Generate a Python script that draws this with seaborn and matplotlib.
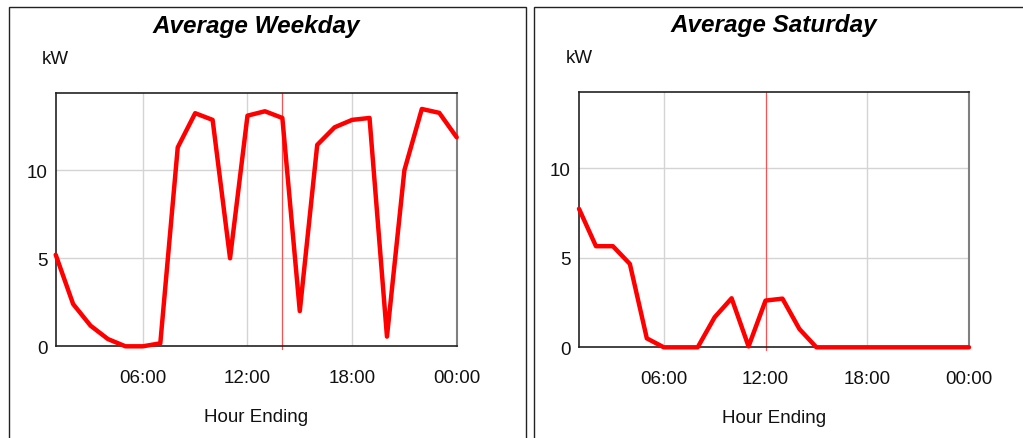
import numpy as np
import pandas as pd
import seaborn as sns
import matplotlib
matplotlib.use("Agg")
import matplotlib.pyplot as plt
from matplotlib.patches import Rectangle
from matplotlib.ticker import FixedLocator

# Hourly load profiles (hour ending 1..24)
hours = list(range(1, 25))
weekday_kw = [5.2, 2.4, 1.17, 0.41, 0.0, 0.0, 0.17, 11.3, 13.24, 12.86, 5.0, 13.1,
              13.35, 12.97, 2.0, 11.44, 12.44, 12.86, 12.97, 0.55, 10.0, 13.48, 13.26, 11.87]
saturday_kw = [7.74, 5.65, 5.65, 4.66, 0.5, 0.0, 0.0, 0.0, 1.68, 2.74, 0.05, 2.61,
               2.72, 1.02, 0.0, 0.0, 0.0, 0.0, 0.0, 0.0, 0.0, 0.0, 0.0, 0.0]

titles = ["Average Weekday", "Average Saturday"]
x_ticks = [6, 12, 18, 24]
x_tick_labels = ["06:00", "12:00", "18:00", "00:00"]
y_major = [0, 5, 10]
y_minor = [2.5, 7.5, 12.5]
marker_hour = [14, 12]

sns.set_theme(style="white")
plt.rcParams["font.family"] = ["Liberation Sans", "DejaVu Sans"]

W, H = 1023, 439
fig = plt.figure(figsize=(W / 100, H / 100), dpi=100)
fig.patch.set_facecolor("white")

# panel frames (run off the bottom / right edge)
for x0, x1 in [(8.5, 525.5), (533.5, 1040)]:
    fig.add_artist(Rectangle((x0 / W, -0.1), (x1 - x0) / W, 1.1 - 8.5 / H,
                             transform=fig.transFigure, fill=False,
                             edgecolor="#222222", linewidth=1.0))

axes_rects = [
    [55.7 / W, 91.7 / H, 401.0 / W, 253.0 / H],
    [579.0 / W, 90.7 / H, 390.0 / W, 255.0 / H],
]
ylims = [14.37, 14.25]

df = pd.DataFrame({"hour": hours * 2,
                   "kW": weekday_kw + saturday_kw,
                   "day": [titles[0]] * 24 + [titles[1]] * 24})

for i, title in enumerate(titles):
    ax = fig.add_axes(axes_rects[i])
    sub = df[df["day"] == title]
    ax.set_xlim(1, 24)
    ax.set_ylim(0, ylims[i])

    # grid
    for xv in x_ticks[:-1]:
        if xv != marker_hour[i]:
            ax.axvline(xv, color="#d4d4d4", linewidth=1.0, zorder=0)
    for yv in [5, 10]:
        ax.axhline(yv, color="#d4d4d4", linewidth=1.0, zorder=0)
    ax.axvline(marker_hour[i], ymin=-0.01, ymax=1.0, color="#ff5050",
               linewidth=0.9, zorder=1, clip_on=False)

    sns.lineplot(data=sub, x="hour", y="kW", ax=ax, color="#ff0000",
                 linewidth=3.2, zorder=3, clip_on=False)

    ax.set_xticks(x_ticks)
    ax.set_xticklabels(x_tick_labels)
    ax.set_yticks(y_major)
    ax.set_yticklabels([str(v) for v in y_major])
    ax.yaxis.set_minor_locator(FixedLocator(y_minor))
    ax.tick_params(axis="both", which="both", direction="out", colors="#222222",
                   labelcolor="#111111", labelsize=13.5, length=4, width=1.0, pad=5)
    ax.tick_params(axis="y", which="both", length=3, pad=3)
    ax.tick_params(axis="x", pad=12)

    ax.set_xlabel("Hour Ending", fontsize=13.5, color="#111111", labelpad=16)
    ax.set_ylabel("")
    ax.set_title(title, fontsize=17.5, fontweight="bold", fontstyle="italic",
                 color="#000000", pad=44)
    ax.text(-0.035, 1.105, "kW", transform=ax.transAxes, fontsize=13.5,
            ha="left", va="bottom", color="#111111")

    for side in ["left", "bottom", "top"]:
        ax.spines[side].set_color("#222222")
        ax.spines[side].set_linewidth(1.2)
    ax.spines["right"].set_color("#808080")
    ax.spines["right"].set_linewidth(1.5)
    ax.set_facecolor("white")

fig.savefig("out.png", dpi=100, facecolor="white")
